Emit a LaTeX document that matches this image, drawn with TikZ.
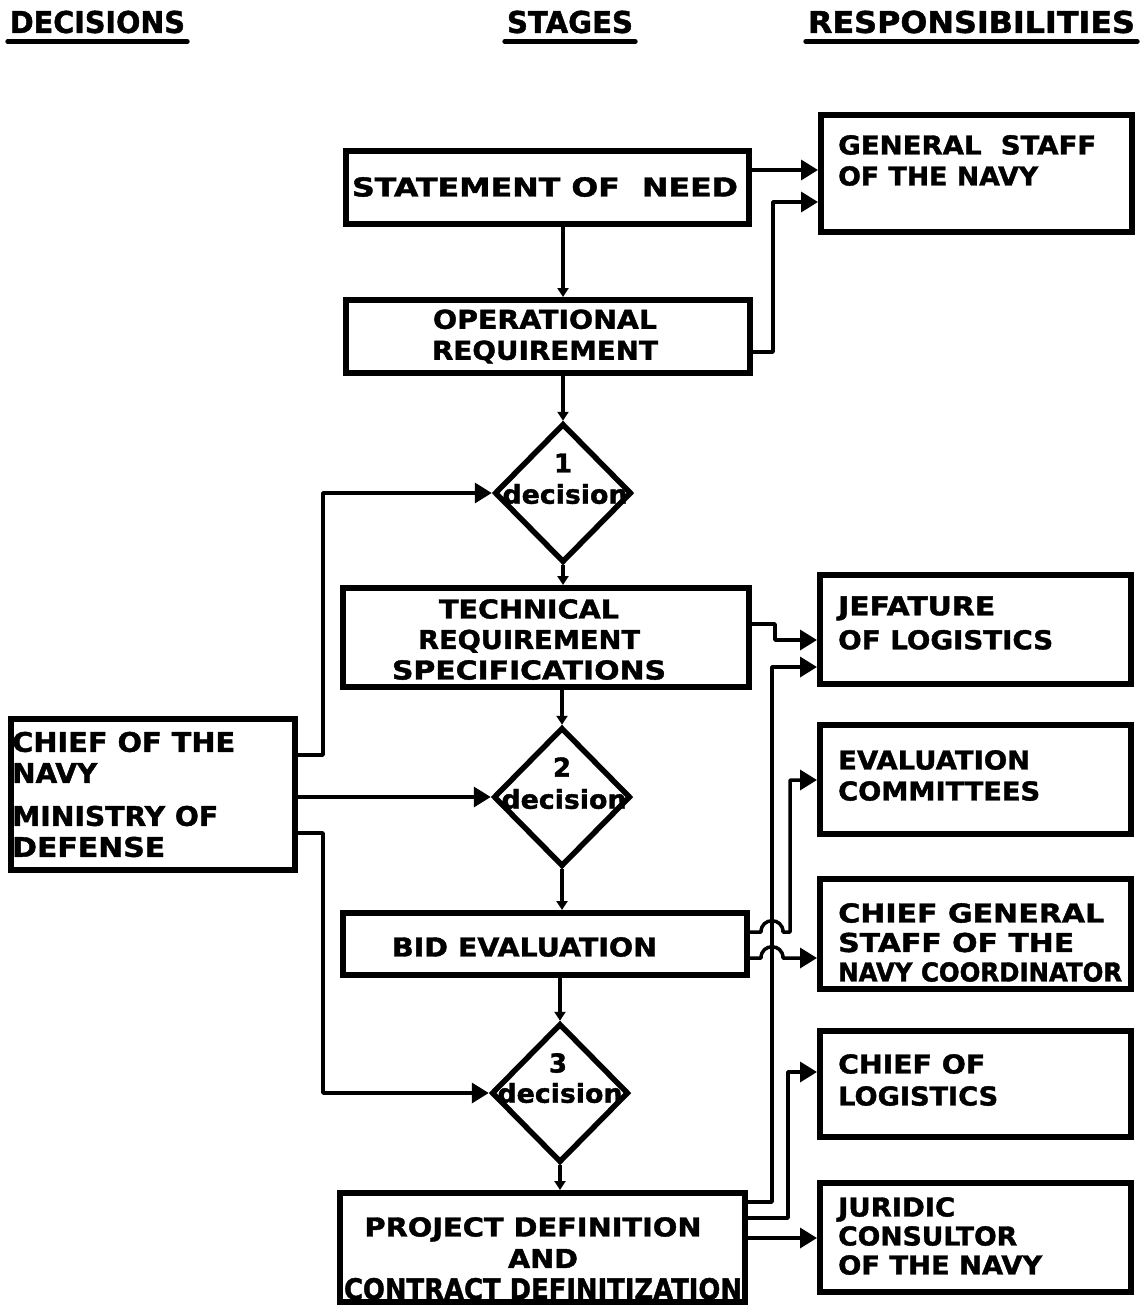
\documentclass[tikz,border=0pt]{standalone}
\usepackage{fontspec}
\setmainfont{DejaVu Sans}[BoldFeatures={FakeBold=1.5}]
\usepackage{graphicx}
\usetikzlibrary{shapes.geometric,arrows.meta}

% set a line of lettering to a given width, keeping its height
\newcommand\fw[2]{\resizebox{#1pt}{\height}{#2}}

\begin{document}
\begin{tikzpicture}[x=1pt,y=-1pt,
  stagebox/.style={draw,line width=6pt,inner sep=0pt},
  dia/.style={draw,diamond,aspect=1,line width=5.5pt,inner sep=0pt,
              minimum width=137pt,minimum height=139pt},
  txt/.style={inner sep=0pt,font=\bfseries\fontsize{26}{#1}\selectfont},
  txt/.default=31,
  hdr/.style={inner sep=0pt,font=\bfseries\fontsize{30}{32}\selectfont},
  uline/.style={line width=5pt,line cap=round},
  conn/.style={line width=3.5pt,line join=round},
  arr/.style={conn,-{Triangle[length=17pt,width=20pt]}},
  arrs/.style={conn,-{Triangle[length=9pt,width=11pt]}}]

\useasboundingbox (0,0) rectangle (1146,1311);

% column headings
\node[hdr] (hDec) at (97.5,22) {\fw{175}{DECISIONS}};
\node[hdr] (hSta) at (570,22) {\fw{126}{STAGES}};
\node[hdr] (hRes) at (971.5,22) {\fw{327}{RESPONSIBILITIES}};
\draw[uline] ([xshift=-2pt,yshift=-8pt]hDec.south west) -- ([xshift=2pt,yshift=-8pt]hDec.south east);
\draw[uline] ([xshift=-2pt,yshift=-8pt]hSta.south west) -- ([xshift=2pt,yshift=-8pt]hSta.south east);
\draw[uline] ([xshift=-2pt,yshift=-8pt]hRes.south west) -- ([xshift=2pt,yshift=-8pt]hRes.south east);

% stages
\node[stagebox,minimum width=403pt,minimum height=73pt] (son) at (547.5,187.5) {};
\node[stagebox,minimum width=404pt,minimum height=73pt] (or) at (548,336.5) {};
\node[dia] (d1) at (563,493) {};
\node[stagebox,minimum width=406pt,minimum height=99pt] (trs) at (546,637.5) {};
\node[dia] (d2) at (562,797) {};
\node[stagebox,minimum width=404pt,minimum height=62pt] (bid) at (545,944) {};
\node[dia] (d3) at (560,1093) {};
\node[stagebox,minimum width=405pt,minimum height=109pt] (pdc) at (542.5,1247.5) {};

% decision-makers
\node[stagebox,minimum width=284pt,minimum height=151pt] (chief) at (153,794.5) {};

% responsibilities
\node[stagebox,minimum width=311pt,minimum height=117pt] (gsn) at (976.5,173.5) {};
\node[stagebox,minimum width=311pt,minimum height=109pt] (jl) at (975.5,629.5) {};
\node[stagebox,minimum width=311pt,minimum height=109pt] (ec) at (975.5,779.5) {};
\node[stagebox,minimum width=311pt,minimum height=110pt] (cgs) at (975.5,934) {};
\node[stagebox,minimum width=311pt,minimum height=106pt] (cl) at (975.5,1084) {};
\node[stagebox,minimum width=311pt,minimum height=109pt] (jc) at (975.5,1237.5) {};

% lettering of the stages
\node[txt] (sonT) at (545,187) {\fw{386}{STATEMENT OF\ \ NEED}};
\node[txt,align=center] (orT) at (545,336.5) {\fw{224}{OPERATIONAL}\\\fw{226}{REQUIREMENT}};
\node[txt=30.5,align=center] (trsT) at (529,639.5) {\fw{180}{TECHNICAL}\\\fw{222}{REQUIREMENT}\\\fw{274}{SPECIFICATIONS}};
\node[txt] (bidT) at (524.5,947) {\fw{265}{BID EVALUATION}};
\node[txt=31.5,align=center] (pdcT) at (543,1258.5)
  {\fw{337}{PROJECT DEFINITION}\hspace*{20pt}\\\fw{70}{AND}\hspace*{36pt}\\{\fontsize{29}{31.5}\selectfont\fw{398}{CONTRACT DEFINITIZATION}}};

% lettering of the decisions
\node[txt] (n1) at (563,463) {1};
\node[txt] (dec1) at (565,494) {\fw{125}{decision}};
\node[txt] (n2) at (562,767) {2};
\node[txt] (dec2) at (564,799) {\fw{125}{decision}};
\node[txt] (n3) at (558,1063) {3};
\node[txt] (dec3) at (560,1093) {\fw{125}{decision}};

% lettering of the decision-makers
\node[txt=31,anchor=west,align=left,font=\bfseries\fontsize{27}{31}\selectfont] (chiefT) at (12,794.5)
  {\fw{223}{CHIEF OF THE}\\\fw{85}{NAVY}\\[12pt]\fw{206}{MINISTRY OF}\\\fw{153}{DEFENSE}};

% lettering of the responsibilities
\node[txt,anchor=west,align=left] (gsnT) at (838,160.5) {\fw{258}{GENERAL\ \ STAFF}\\\fw{200}{OF THE NAVY}};
\node[txt=34,anchor=west,align=left] (jlT) at (838,623) {\fw{157}{JEFATURE}\\\fw{215}{OF LOGISTICS}};
\node[txt,anchor=west,align=left] (ecT) at (838,775.5) {\fw{192}{EVALUATION}\\\fw{202}{COMMITTEES}};
\node[txt=29.5,anchor=west,align=left] (cgsT) at (838,942.5) {\fw{266}{CHIEF GENERAL}\\\fw{236}{STAFF OF THE}\\\fw{284}{NAVY COORDINATOR}};
\node[txt=32,anchor=west,align=left] (clT) at (838,1080) {\fw{147}{CHIEF OF}\\\fw{160}{LOGISTICS}};
\node[txt=29,anchor=west,align=left] (jcT) at (838,1236) {\fw{117}{JURIDIC}\\\fw{179}{CONSULTOR}\\\fw{204}{OF THE NAVY}};

% flow down the stages
\draw[arrs] (son.south -| d1.north) -- (or.north -| d1.north);
\draw[arrs] (or.south -| d1.north) -- (d1.north);
\draw[arrs] (d1.south) -- (trs.north -| d1.south);
\draw[arrs] (trs.south -| d2.north) -- (d2.north);
\draw[arrs] (d2.south) -- (bid.north -| d2.south);
\draw[arrs] (bid.south -| d3.north) -- (d3.north);
\draw[arrs] (d3.south) -- (pdc.north -| d3.south);

% decisions taken by the chief of the navy / ministry of defense
\draw[arr] (chief.east |- 0,755) -| (323,493) -- (d1.west);
\draw[arr] (chief.east |- 0,797) -- (d2.west);
\draw[arr] (chief.east |- 0,833) -| (323,1093) -- (d3.west);

% stages to responsibilities
\draw[arr] (son.east |- 0,170) -- (gsn.west |- 0,170);
\draw[arr] (or.east |- 0,352) -| (773,202) -- (gsn.west |- 0,202);
\draw[arr] (trs.east |- 0,624) -| (775,640) -- (jl.west |- 0,640);
\draw[arr] (pdc.east |- 0,1202) -| (772,667) -- (jl.west |- 0,667);
\draw[arr] (bid.east |- 0,932) -- (761,932) .. controls (761,917) and (783,917) .. (783,932)
  -| (790,780) -- (ec.west |- 0,780);
\draw[arr] (bid.east |- 0,958) -- (761,958) .. controls (761,943) and (783,943) .. (783,958)
  -- (cgs.west |- 0,958);
\draw[arr] (pdc.east |- 0,1218) -| (788,1072) -- (cl.west |- 0,1072);
\draw[arr] (pdc.east |- 0,1238) -- (jc.west |- 0,1238);

\end{tikzpicture}
\end{document}
